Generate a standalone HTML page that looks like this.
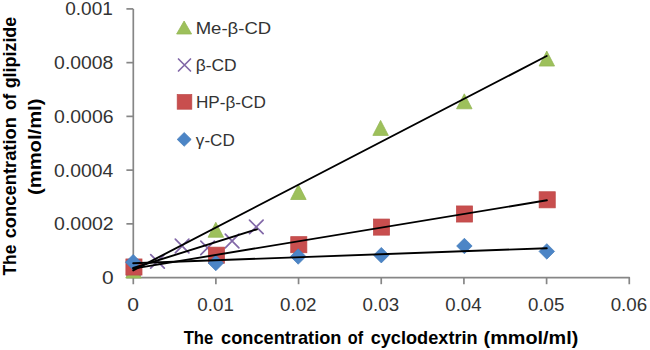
<!DOCTYPE html>
<html><head><meta charset="utf-8"><style>
html,body{margin:0;padding:0;background:#fff;}
svg{display:block;}
</style></head><body>
<svg width="650" height="350" viewBox="0 0 650 350">
<rect width="650" height="350" fill="#fff"/>
<g stroke="#868686" stroke-width="1.7" fill="none" stroke-linejoin="round"><path d="M133.3 8.90V284.20" /><path d="M133.3 277.6H629.28V284.20" /><path d="M126.40 277.60H133.3" /><path d="M126.40 223.86H133.3" /><path d="M126.40 170.12H133.3" /><path d="M126.40 116.38H133.3" /><path d="M126.40 62.64H133.3" /><path d="M126.40 8.90H133.3" /><path d="M215.88 277.6V284.20" /><path d="M298.56 277.6V284.20" /><path d="M381.24 277.6V284.20" /><path d="M463.92 277.6V284.20" /><path d="M546.60 277.6V284.20" /></g>
<text x="102.06" y="284.10" textLength="11.65" lengthAdjust="spacingAndGlyphs" style="font-family:'Liberation Sans',sans-serif;font-size:18.2px;fill:#333333">0</text>
<text x="54.12" y="230.36" textLength="59.58" lengthAdjust="spacingAndGlyphs" style="font-family:'Liberation Sans',sans-serif;font-size:18.2px;fill:#333333">0.0002</text>
<text x="54.13" y="176.62" textLength="59.13" lengthAdjust="spacingAndGlyphs" style="font-family:'Liberation Sans',sans-serif;font-size:18.2px;fill:#333333">0.0004</text>
<text x="54.12" y="122.88" textLength="59.43" lengthAdjust="spacingAndGlyphs" style="font-family:'Liberation Sans',sans-serif;font-size:18.2px;fill:#333333">0.0006</text>
<text x="54.13" y="69.14" textLength="59.22" lengthAdjust="spacingAndGlyphs" style="font-family:'Liberation Sans',sans-serif;font-size:18.2px;fill:#333333">0.0008</text>
<text x="65.24" y="15.40" textLength="47.56" lengthAdjust="spacingAndGlyphs" style="font-family:'Liberation Sans',sans-serif;font-size:18.2px;fill:#333333">0.001</text>
<text x="127.20" y="311.00" textLength="11.76" lengthAdjust="spacingAndGlyphs" style="font-family:'Liberation Sans',sans-serif;font-size:18.2px;fill:#333333">0</text>
<text x="197.28" y="311.00" textLength="36.57" lengthAdjust="spacingAndGlyphs" style="font-family:'Liberation Sans',sans-serif;font-size:18.2px;fill:#333333">0.01</text>
<text x="279.96" y="311.00" textLength="36.62" lengthAdjust="spacingAndGlyphs" style="font-family:'Liberation Sans',sans-serif;font-size:18.2px;fill:#333333">0.02</text>
<text x="362.64" y="311.00" textLength="36.47" lengthAdjust="spacingAndGlyphs" style="font-family:'Liberation Sans',sans-serif;font-size:18.2px;fill:#333333">0.03</text>
<text x="445.33" y="311.00" textLength="36.18" lengthAdjust="spacingAndGlyphs" style="font-family:'Liberation Sans',sans-serif;font-size:18.2px;fill:#333333">0.04</text>
<text x="528.00" y="311.00" textLength="36.42" lengthAdjust="spacingAndGlyphs" style="font-family:'Liberation Sans',sans-serif;font-size:18.2px;fill:#333333">0.05</text>
<text x="610.68" y="311.00" textLength="36.47" lengthAdjust="spacingAndGlyphs" style="font-family:'Liberation Sans',sans-serif;font-size:18.2px;fill:#333333">0.06</text>
<path d="M133.50 263.00L141.25 278.00L125.75 278.00Z" fill="#9DC05B" stroke="#93B553" stroke-width="0.75"/>
<path d="M215.80 222.25L223.55 237.25L208.05 237.25Z" fill="#9DC05B" stroke="#93B553" stroke-width="0.75"/>
<path d="M298.40 184.50L306.15 199.50L290.65 199.50Z" fill="#9DC05B" stroke="#93B553" stroke-width="0.75"/>
<path d="M380.60 120.40L388.35 135.40L372.85 135.40Z" fill="#9DC05B" stroke="#93B553" stroke-width="0.75"/>
<path d="M464.30 93.80L472.05 108.80L456.55 108.80Z" fill="#9DC05B" stroke="#93B553" stroke-width="0.75"/>
<path d="M546.80 51.05L554.55 66.05L539.05 66.05Z" fill="#9DC05B" stroke="#93B553" stroke-width="0.75"/>
<path d="M126.70 261.20L140.30 274.80M140.30 261.20L126.70 274.80" stroke="#8268A8" stroke-width="1.7" stroke-linecap="round" fill="none"/>
<path d="M150.70 254.60L164.30 268.20M164.30 254.60L150.70 268.20" stroke="#8268A8" stroke-width="1.7" stroke-linecap="round" fill="none"/>
<path d="M175.30 239.20L188.90 252.80M188.90 239.20L175.30 252.80" stroke="#8268A8" stroke-width="1.7" stroke-linecap="round" fill="none"/>
<path d="M200.80 241.10L214.40 254.70M214.40 241.10L200.80 254.70" stroke="#8268A8" stroke-width="1.7" stroke-linecap="round" fill="none"/>
<path d="M225.30 234.20L238.90 247.80M238.90 234.20L225.30 247.80" stroke="#8268A8" stroke-width="1.7" stroke-linecap="round" fill="none"/>
<path d="M249.50 220.10L263.10 233.70M263.10 220.10L249.50 233.70" stroke="#8268A8" stroke-width="1.7" stroke-linecap="round" fill="none"/>
<rect x="125.90" y="258.95" width="16.10" height="16.10" fill="#C84E4E" stroke="#BE4A49" stroke-width="0.75"/>
<rect x="208.35" y="247.15" width="16.10" height="16.10" fill="#C84E4E" stroke="#BE4A49" stroke-width="0.75"/>
<rect x="290.75" y="236.65" width="16.10" height="16.10" fill="#C84E4E" stroke="#BE4A49" stroke-width="0.75"/>
<rect x="373.45" y="219.05" width="16.10" height="16.10" fill="#C84E4E" stroke="#BE4A49" stroke-width="0.75"/>
<rect x="456.45" y="205.95" width="16.10" height="16.10" fill="#C84E4E" stroke="#BE4A49" stroke-width="0.75"/>
<rect x="539.15" y="191.75" width="16.10" height="16.10" fill="#C84E4E" stroke="#BE4A49" stroke-width="0.75"/>
<path d="M133.20 254.45L140.95 262.20L133.20 269.95L125.45 262.20Z" fill="#4C85C6" stroke="#477DBB" stroke-width="0.75"/>
<path d="M215.80 255.25L223.55 263.00L215.80 270.75L208.05 263.00Z" fill="#4C85C6" stroke="#477DBB" stroke-width="0.75"/>
<path d="M298.20 248.75L305.95 256.50L298.20 264.25L290.45 256.50Z" fill="#4C85C6" stroke="#477DBB" stroke-width="0.75"/>
<path d="M381.30 247.45L389.05 255.20L381.30 262.95L373.55 255.20Z" fill="#4C85C6" stroke="#477DBB" stroke-width="0.75"/>
<path d="M464.40 238.25L472.15 246.00L464.40 253.75L456.65 246.00Z" fill="#4C85C6" stroke="#477DBB" stroke-width="0.75"/>
<path d="M546.80 243.65L554.55 251.40L546.80 259.15L539.05 251.40Z" fill="#4C85C6" stroke="#477DBB" stroke-width="0.75"/>
<g stroke="#000" stroke-width="1.9" fill="none" stroke-linecap="round"><path d="M133.20 270.40L546.70 56.00"/><path d="M133.20 268.00L256.90 229.30"/><path d="M133.20 268.60L546.90 200.30"/><path d="M133.20 263.30L546.80 248.20"/></g>
<path d="M184.10 21.00L191.60 34.00L176.60 34.00Z" fill="#9DC05B" stroke="#93B553" stroke-width="0.75"/>
<path d="M178.50 59.00L190.50 71.00M190.50 59.00L178.50 71.00" stroke="#8268A8" stroke-width="1.7" stroke-linecap="round" fill="none"/>
<rect x="177.20" y="94.60" width="14.60" height="14.60" fill="#C84E4E" stroke="#BE4A49" stroke-width="0.75"/>
<path d="M184.20 132.50L191.20 139.40L184.20 146.30L177.20 139.40Z" fill="#4C85C6" stroke="#477DBB" stroke-width="0.75"/>
<text x="195.67" y="33.70" textLength="75.50" lengthAdjust="spacingAndGlyphs" style="font-family:'Liberation Sans',sans-serif;font-size:16.3px;fill:#333333">Me-β-CD</text>
<text x="195.68" y="71.00" textLength="41.05" lengthAdjust="spacingAndGlyphs" style="font-family:'Liberation Sans',sans-serif;font-size:16.3px;fill:#333333">β-CD</text>
<text x="195.99" y="107.90" textLength="69.82" lengthAdjust="spacingAndGlyphs" style="font-family:'Liberation Sans',sans-serif;font-size:16.3px;fill:#333333">HP-β-CD</text>
<text x="195.86" y="146.00" textLength="38.85" lengthAdjust="spacingAndGlyphs" style="font-family:'Liberation Sans',sans-serif;font-size:16.3px;fill:#333333">γ-CD</text>
<text x="183.63" y="343.80" textLength="29.61" lengthAdjust="spacingAndGlyphs" style="font-family:'Liberation Sans',sans-serif;font-size:19.0px;font-weight:bold;fill:#000">The</text>
<text x="221.07" y="343.80" textLength="120.36" lengthAdjust="spacingAndGlyphs" style="font-family:'Liberation Sans',sans-serif;font-size:19.0px;font-weight:bold;fill:#000">concentration</text>
<text x="347.85" y="343.80" textLength="15.33" lengthAdjust="spacingAndGlyphs" style="font-family:'Liberation Sans',sans-serif;font-size:19.0px;font-weight:bold;fill:#000">of</text>
<text x="370.67" y="343.80" textLength="107.04" lengthAdjust="spacingAndGlyphs" style="font-family:'Liberation Sans',sans-serif;font-size:19.0px;font-weight:bold;fill:#000">cyclodextrin</text>
<text x="483.61" y="343.80" textLength="94.69" lengthAdjust="spacingAndGlyphs" style="font-family:'Liberation Sans',sans-serif;font-size:19.0px;font-weight:bold;fill:#000">(mmol/ml)</text>
<g transform="translate(15.7 0) rotate(-90)"><text x="-275.57" y="0.00" textLength="30.84" lengthAdjust="spacingAndGlyphs" style="font-family:'Liberation Sans',sans-serif;font-size:19.0px;font-weight:bold;fill:#000">The</text><text x="-238.33" y="0.00" textLength="121.27" lengthAdjust="spacingAndGlyphs" style="font-family:'Liberation Sans',sans-serif;font-size:19.0px;font-weight:bold;fill:#000">concentration</text><text x="-109.99" y="0.00" textLength="16.27" lengthAdjust="spacingAndGlyphs" style="font-family:'Liberation Sans',sans-serif;font-size:19.0px;font-weight:bold;fill:#000">of</text><text x="-88.31" y="0.00" textLength="71.50" lengthAdjust="spacingAndGlyphs" style="font-family:'Liberation Sans',sans-serif;font-size:19.0px;font-weight:bold;fill:#000">glipizide</text></g>
<g transform="translate(40.9 0) rotate(-90)"><text x="-195.01" y="0.00" textLength="96.43" lengthAdjust="spacingAndGlyphs" style="font-family:'Liberation Sans',sans-serif;font-size:19.0px;font-weight:bold;fill:#000">(mmol/ml)</text></g>
</svg>
</body></html>
